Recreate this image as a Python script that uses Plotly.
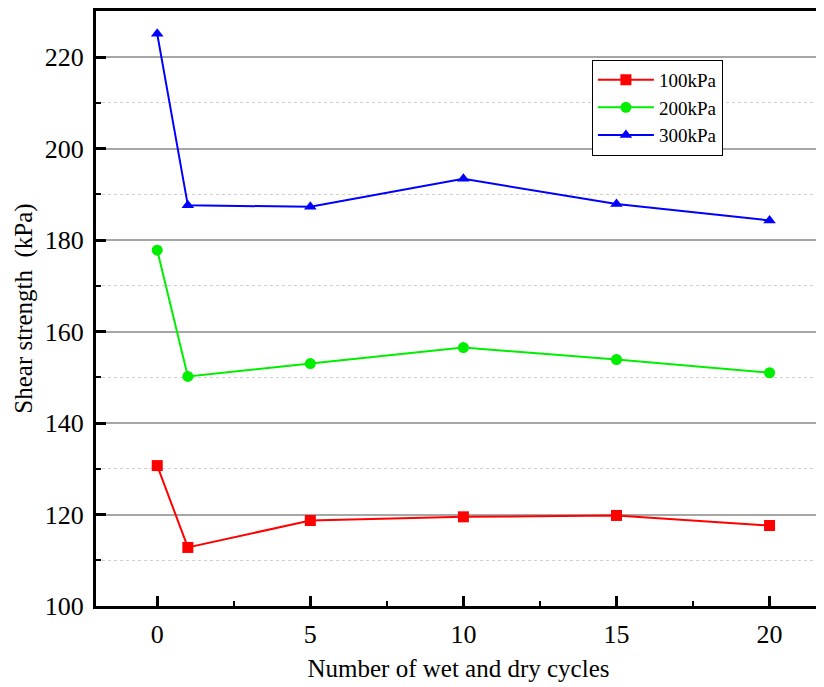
import plotly.graph_objects as go

cycles = [0, 1, 5, 10, 15, 20]
s100 = [130.7, 112.8, 118.7, 119.5, 119.8, 117.6]
s200 = [177.8, 150.2, 153.0, 156.5, 153.9, 151.0]
s300 = [225.1, 187.6, 187.3, 193.4, 187.9, 184.3]
x_ticks = [0, 5, 10, 15, 20]
y_ticks = [100, 120, 140, 160, 180, 200, 220]

series = [
    ("100kPa", s100, "#ff0000", "square"),
    ("200kPa", s200, "#00ee00", "circle"),
    ("300kPa", s300, "#0000ff", "triangle-up"),
]

FONT = "Liberation Serif"
TICKFONT = dict(family=FONT, size=26, color="black")

fig = go.Figure()
for name, vals, col, sym in series:
    fig.add_trace(go.Scatter(
        x=cycles, y=vals, name=name, mode="lines+markers",
        line=dict(color=col, width=2),
        marker=dict(symbol=sym, size=11, color=col),
    ))

fig.update_layout(
    xaxis=dict(
        showline=True, linecolor="black", linewidth=3, mirror=True,
        ticks="inside", tickcolor="black", tickwidth=3, ticklen=10,
        tickfont=TICKFONT, zeroline=False,
        range=[-2, 21.68], tickmode="array", tickvals=x_ticks,
        ticktext=[str(v) for v in x_ticks],
        showgrid=False, ticklabelstandoff=3,
        minor=dict(ticks="inside", ticklen=5, tickwidth=2, tickcolor="black",
                   dtick=2.5, tick0=0, showgrid=False),
        title=dict(text="Number of wet and dry cycles",
                   font=dict(family=FONT, size=25, color="black"), standoff=12),
    ),
    yaxis=dict(
        showline=True, linecolor="black", linewidth=3, mirror=True,
        ticks="inside", tickcolor="black", tickwidth=3, ticklen=10,
        tickfont=TICKFONT, zeroline=False,
        range=[100, 230.1], tickmode="array", tickvals=y_ticks,
        ticktext=[str(v) for v in y_ticks],
        showgrid=True, gridcolor="#a6a6a6", gridwidth=1.5, ticklabelstandoff=4,
        minor=dict(ticks="inside", ticklen=5, tickwidth=2, tickcolor="black",
                   dtick=10, tick0=0, showgrid=True, gridcolor="#cfcfcf",
                   griddash="dot", gridwidth=1),
        title=dict(text="Shear strength\u00a0\u00a0(kPa)",
                   font=dict(family=FONT, size=25, color="black"), standoff=6),
    ),
    width=816, height=679,
    margin=dict(l=88, r=0, t=3, b=81),
    paper_bgcolor="white", plot_bgcolor="white",
    font=dict(family=FONT, size=25, color="black"),
    showlegend=True,
    legend=dict(
        x=0.684, y=0.918, xanchor="left", yanchor="top",
        bgcolor="white", bordercolor="black", borderwidth=1,
        font=dict(family=FONT, size=19, color="black"),
        tracegroupgap=0, itemwidth=56,
    ),
)

fig.write_html("out.html")
